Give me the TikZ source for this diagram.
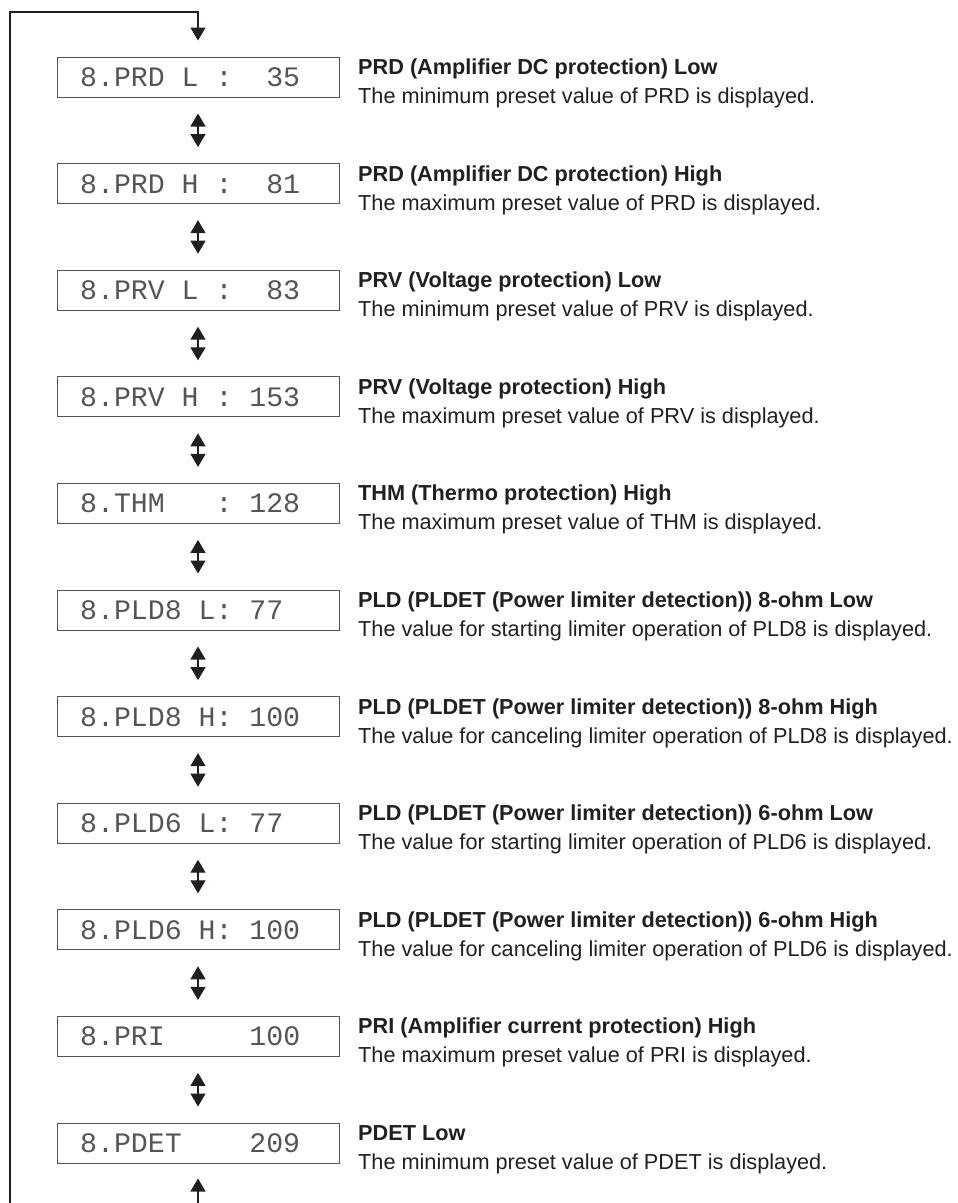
\documentclass[tikz,border=0pt]{standalone}
\usepackage{fontspec}
\setmainfont{Liberation Sans}
\newfontfamily\lcdfont{Liberation Mono}
\usetikzlibrary{arrows.meta}
\definecolor{ink}{HTML}{231F20}
\definecolor{lcdgray}{HTML}{555555}
\begin{document}
\begin{tikzpicture}[x=1pt,y=-1pt,
 lcdbox/.style={draw=lcdgray, line width=1pt, minimum width=282pt, minimum height=40pt, inner sep=0pt},
 lcdtext/.style={anchor=base west, inner sep=0pt, text=lcdgray, font=\lcdfont\fontsize{28.2}{30}\selectfont},
 ttlstyle/.style={anchor=base west, inner sep=0pt, text=ink, font=\bfseries\fontsize{21.7}{24}\selectfont},
 dscstyle/.style={anchor=base west, inner sep=0pt, text=ink, font=\fontsize{21.7}{24}\selectfont},
 tip/.tip={Triangle[width=15pt,length=13pt]},
 flow/.style={draw=ink, line width=1.2pt, -tip},
 dflow/.style={draw=ink, line width=1.2pt, tip-tip, shorten <=16pt, shorten >=16pt}
]
\useasboundingbox (0,0) rectangle (958,1203);
\foreach \i/\disp/\tA/\tB in {
 1/8.PRD~L~:~~35/PRD (Amplifier DC protection) Low/The minimum preset value of PRD is displayed.,
 2/8.PRD~H~:~~81/PRD (Amplifier DC protection) High/The maximum preset value of PRD is displayed.,
 3/8.PRV~L~:~~83/PRV (Voltage protection) Low/The minimum preset value of PRV is displayed.,
 4/8.PRV~H~:~153/PRV (Voltage protection) High/The maximum preset value of PRV is displayed.,
 5/8.THM~~~:~128/THM (Thermo protection) High/The maximum preset value of THM is displayed.,
 6/8.PLD8~L:~77/PLD (PLDET (Power limiter detection)) 8-ohm Low/The value for starting limiter operation of PLD8 is displayed.,
 7/8.PLD8~H:~100/PLD (PLDET (Power limiter detection)) 8-ohm High/The value for canceling limiter operation of PLD8 is displayed.,
 8/8.PLD6~L:~77/PLD (PLDET (Power limiter detection)) 6-ohm Low/The value for starting limiter operation of PLD6 is displayed.,
 9/8.PLD6~H:~100/PLD (PLDET (Power limiter detection)) 6-ohm High/The value for canceling limiter operation of PLD6 is displayed.,
 10/8.PRI~~~~~100/PRI (Amplifier current protection) High/The maximum preset value of PRI is displayed.,
 11/8.PDET~~~~209/PDET Low/The minimum preset value of PDET is displayed.}{
  \pgfmathsetmacro\c{77+(\i-1)*106.6}
  \node[lcdbox] (b\i) at (198,\c) {};
  \node[lcdtext] (s\i) at (80,\c+9.5) {\disp};
  \node[ttlstyle] (t\i) at (358,\c-2.5) {\tA};
  \node[dscstyle] (d\i) at (358,\c+26.5) {\tB};
}
\foreach \i [evaluate=\i as \j using int(\i+1)] in {1,...,10}{
  \draw[dflow] (b\i) -- (b\j);
}
\coordinate (tl) at (10,12);
\coordinate (tr) at (198,12);
\coordinate (bl) at (10,1203);
\coordinate (br) at (198,1203);
\draw[flow, shorten >=16pt] (bl) -- (tl) -- (tr) -- (b1);
\draw[flow, shorten >=15pt] (br) -- (b11);
\end{tikzpicture}
\end{document}
